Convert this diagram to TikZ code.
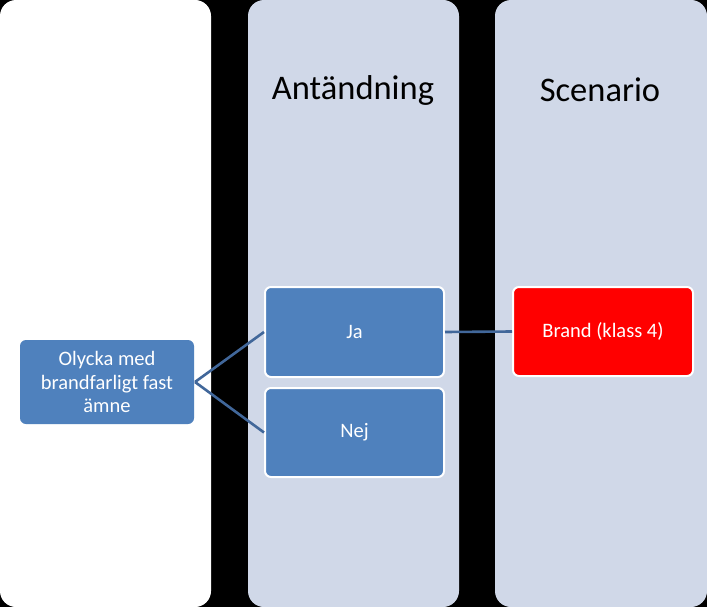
\documentclass[tikz,border=0pt]{standalone}
\usepackage{fontspec}
\setmainfont{Carlito}
\definecolor{colbg}{RGB}{208,216,232}
\definecolor{boxblue}{RGB}{79,129,189}
\definecolor{linkblue}{RGB}{65,103,154}
\definecolor{brandred}{RGB}{255,0,0}
\begin{document}
\begin{tikzpicture}[x=1pt,y=-1pt,
  column/.style={rounded corners=16pt},
  header/.style={font=\fontsize{34.5}{40}\selectfont, text=black, anchor=center},
  stepbox/.style={rounded corners=6pt, fill=boxblue, draw=white, line width=2pt, text=white,
    font=\fontsize{20.5}{23.5}\selectfont, align=center, inner sep=0pt},
  link/.style={draw=linkblue, line width=2.6pt}]
\fill[black] (0,0) rectangle (707,607);
\useasboundingbox (0,0) rectangle (707,607);
\fill[white, column] (0,0) rectangle (211,607);
\fill[colbg, column] (248,0) rectangle (459,607);
\fill[colbg, column] (495,0) rectangle (707,607);
\node[header] (h2) at (353,90) {Antändning};
\node[header] (h3) at (600,90) {Scenario};
\node[stepbox, draw=none, minimum width=174pt, minimum height=84pt] (olycka) at (107,382) {Olycka med\\brandfarligt fast\\ämne};
\node[stepbox, minimum width=179pt, minimum height=90pt] (ja) at (354.5,332) {Ja};
\node[stepbox, minimum width=179pt, minimum height=89pt] (nej) at (354.5,432.5) {Nej};
\node[stepbox, fill=brandred, minimum width=180pt, minimum height=89pt] (brand) at (603,331.5) {Brand (klass 4)};
\draw[link] (olycka.east) -- (ja.west);
\draw[link] (olycka.east) -- (nej.west);
\draw[link] (ja.east) -- (brand.west);
\end{tikzpicture}
\end{document}
